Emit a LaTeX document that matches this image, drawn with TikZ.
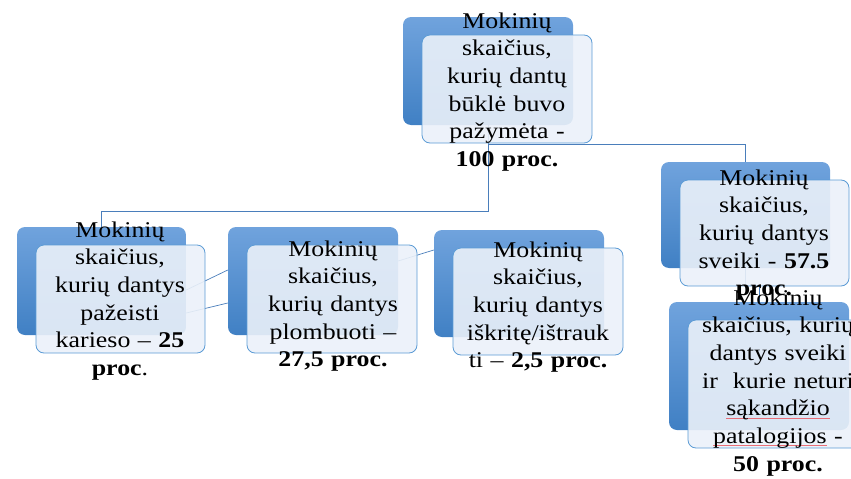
\documentclass[tikz,border=0pt]{standalone}
\usepackage{fontspec}
\setmainfont{Liberation Serif}[FakeStretch=1.15]
\usepackage{tikz}
\usetikzlibrary{shapes,positioning}

\definecolor{backtop}{RGB}{112,163,221}
\definecolor{backbot}{RGB}{64,128,196}
\definecolor{frontfill}{RGB}{235,241,249}
\definecolor{frontline}{RGB}{91,155,213}
\definecolor{linkblue}{RGB}{74,126,187}
\definecolor{spellred}{RGB}{232,110,120}
\newsavebox\spellbox
\newcommand\spellmark[1]{\leavevmode\savebox\spellbox{#1}\rlap{\textcolor{spellred}{\rule[-2.5pt]{\wd\spellbox}{0.7pt}}}\usebox\spellbox}

\begin{document}
\begin{tikzpicture}[x=1pt,y=-1pt,
	backbox/.style={rectangle,rounded corners=8pt,top color=backtop,bottom color=backbot,inner sep=0pt},
	frontbox/.style={rectangle,rounded corners=8pt,draw=frontline,line width=.8pt,fill=frontfill,fill opacity=.9,inner sep=0pt},
	boxtext/.style={text width=220pt,align=center,anchor=base,inner sep=0pt,font=\fontsize{22.5}{27.7}\selectfont},
	link/.style={draw=linkblue,line width=.7pt}]
	\useasboundingbox (0,0) rectangle (851,479);
	% back boxes
	\foreach \name/\cx/\cy/\w/\h in {top/488/71/170/108,caries/101.5/281/169/108,fill/313/281/170/108,lost/519/283.5/170/107,healthy/745.5/215/169/106,normal/759/366/180/128}
		\node[backbox,minimum width=\w pt,minimum height=\h pt] (\name-back) at (\cx,\cy) {};
	% connectors
	\coordinate (topsplit) at (488,211);
	\coordinate (sidesplit) at (488,144);
	\draw[link] (top-back.south) -- (topsplit) -| (caries-back.north);
	\draw[link] (sidesplit) -| (healthy-back.north);
	\draw[link] (healthy-back.south) -- ++(0,17) -| (normal-back.north);
	\draw[link] ([yshift=-9pt]caries-back.east) -- ([yshift=11pt]fill-back.west);
	\draw[link] ([yshift=-32pt]caries-back.east) -- ([yshift=-22pt]fill-back.west);
	\draw[link] ([yshift=20pt]fill-back.east) -- ([yshift=33.5pt]lost-back.west);
	% front boxes
	\foreach \name/\w/\h in {top/170/108,caries/169/108,fill/170/108,lost/170/107,healthy/169/106,normal/180/128}
		\node[frontbox,minimum width=\w pt,minimum height=\h pt] (\name-front) at ([shift={(19,18)}]\name-back.center) {};
	% texts
	\node[boxtext] (top-text) at (507,28) {Mokinių\\skaičius,\\kurių dantų\\būklė buvo\\pažymėta -\\\textbf{100 proc.}};
	\node[boxtext] (caries-text) at (120,237) {Mokinių\\skaičius,\\kurių dantys\\pažeisti\\karieso – \textbf{25}\\\textbf{proc}.};
	\node[boxtext] (fill-text) at (333,256) {Mokinių\\skaičius,\\kurių dantys\\plombuoti –\\\textbf{27,5 proc.}};
	\node[boxtext] (lost-text) at (538,257) {Mokinių\\skaičius,\\kurių dantys\\iškritę/ištrauk\\ti – \textbf{2,5 proc.}};
	\node[boxtext] (healthy-text) at (764,185) {Mokinių\\skaičius,\\kurių dantys\\sveiki - \textbf{57.5}\\\textbf{proc.}};
	\node[boxtext] (normal-text) at (778,305) {Mokinių\\skaičius, kurių\\dantys sveiki\\ir~ kurie neturi\\\spellmark{sąkandžio}\\\spellmark{patalogijos} -\\\textbf{50 proc.}};
\end{tikzpicture}
\end{document}
